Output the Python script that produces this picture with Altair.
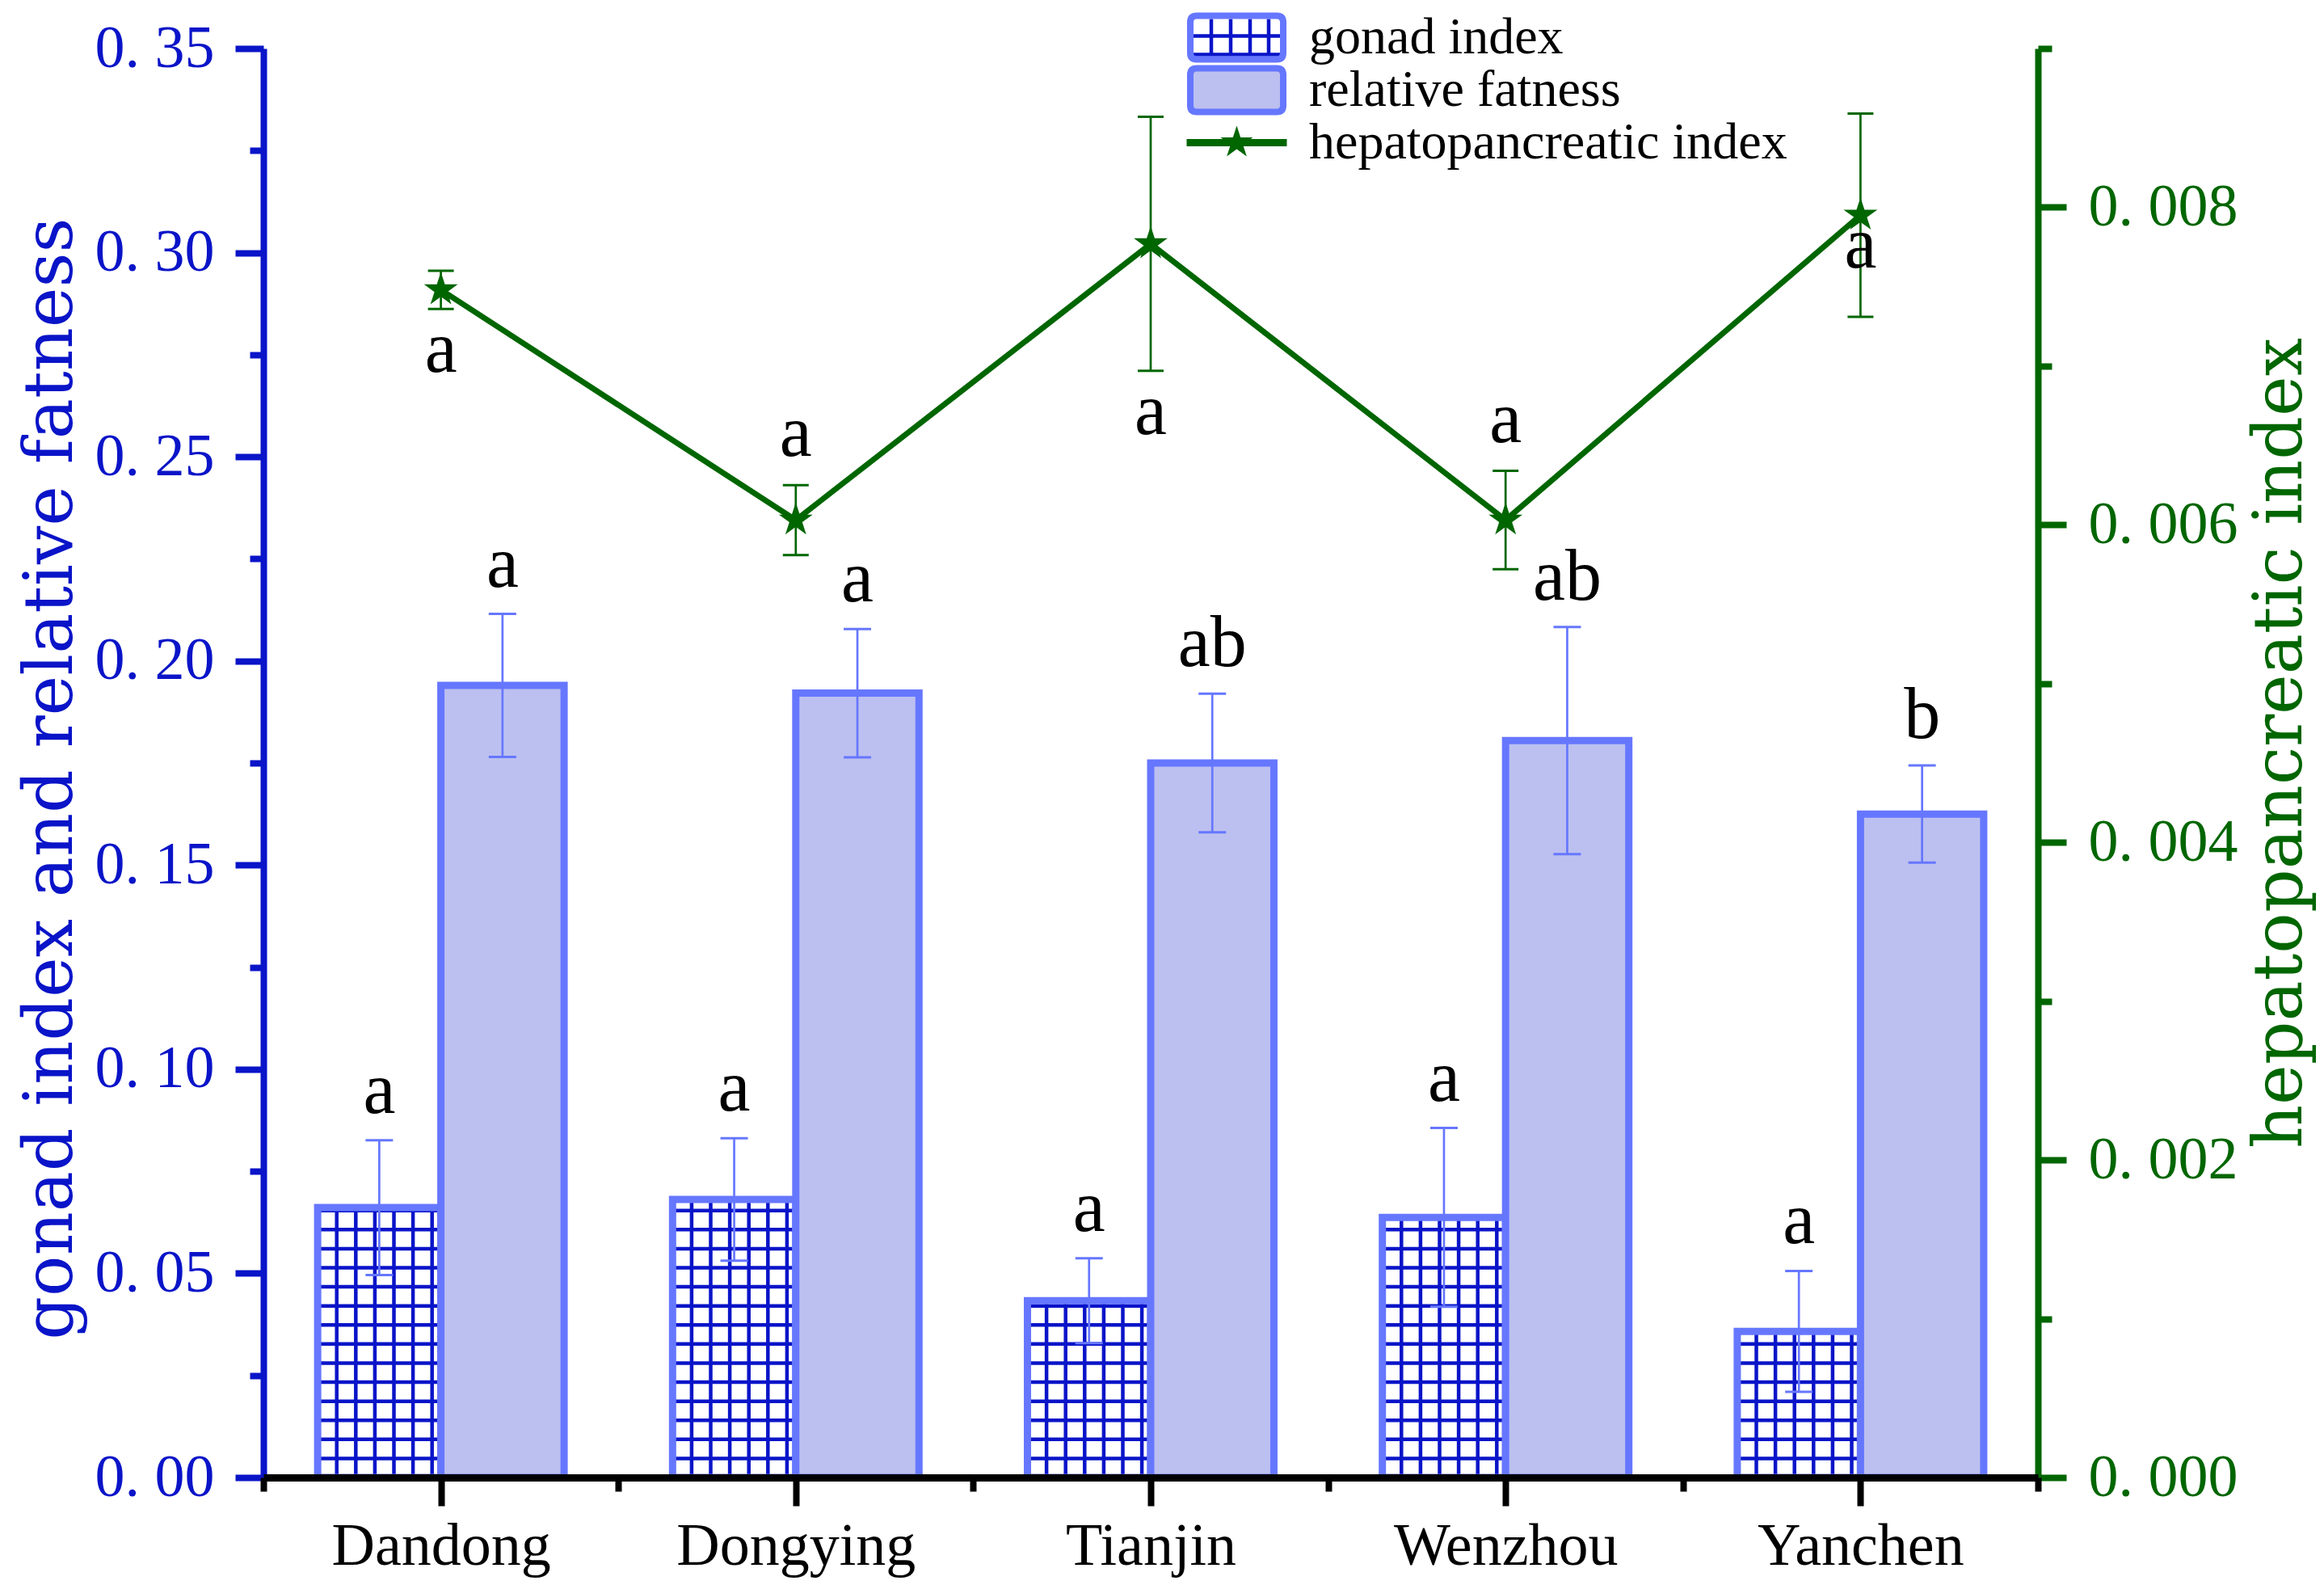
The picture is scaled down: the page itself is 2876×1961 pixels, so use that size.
import json
import math
import altair as alt
import pandas as pd

# ---------------- data ----------------
sites = ["Dandong", "Dongying", "Tianjin", "Wenzhou", "Yanchen"]
gonad = [0.0661, 0.0681, 0.0433, 0.0637, 0.0358]
gonad_err = [0.0165, 0.0150, 0.0104, 0.0219, 0.0148]
gonad_letters = ["a", "a", "a", "a", "a"]
fat = [0.1940, 0.1921, 0.1750, 0.1805, 0.1625]
fat_err = [0.0175, 0.0157, 0.0170, 0.0278, 0.0119]
fat_letters = ["a", "a", "ab", "ab", "b"]
hpi = [0.00748, 0.00603, 0.00777, 0.00603, 0.00795]
hpi_err = [0.00012, 0.00022, 0.00080, 0.00031, 0.00064]
hpi_letters = ["a", "a", "a", "a", "a"]
hpi_letter_side = ["below", "above", "below", "above", "on"]
series = ["gonad index", "relative fatness", "hepatopancreatic index"]
left_ticks = [0.0, 0.025, 0.05, 0.075, 0.10, 0.125, 0.15, 0.175, 0.20,
              0.225, 0.25, 0.275, 0.30, 0.325, 0.35]
right_ticks = [0.000, 0.001, 0.002, 0.003, 0.004, 0.005, 0.006, 0.007,
               0.008, 0.009]
x_ticks = [0, 0.5, 1, 1.5, 2, 2.5, 3, 3.5, 4, 4.5, 5]

# ---------------- styles ----------------
BLUE = "#0A14C8"
LIGHT = "#6677FF"
FATFILL = "#BCC0F0"
GREEN = "#006600"
SERIF = "Liberation Serif"
TITLEFONT = "DejaVu Serif"
W = 0.3472          # bar width in category units
GX = 0.05373        # grid pattern horizontal step (x units)
GY = 0.00467        # grid pattern vertical step (left-axis units)

n = len(sites)
centers = [i + 0.5 for i in range(n)]

bars = pd.DataFrame({
    "site": sites * 2,
    "series": [series[0]] * n + [series[1]] * n,
    "value": gonad + fat,
    "err": gonad_err + fat_err,
    "letter": gonad_letters + fat_letters,
    "x0": [c - W for c in centers] + centers,
    "x1": centers + [c + W for c in centers],
})
bars["xm"] = (bars["x0"] + bars["x1"]) / 2
bars["lo"] = bars["value"] - bars["err"]
bars["hi"] = bars["value"] + bars["err"]
bars["zero"] = 0.0
gbars = bars[bars["series"] == series[0]]
fbars = bars[bars["series"] == series[1]]

caps = pd.concat([
    bars[["xm"]].assign(y=bars["lo"]),
    bars[["xm"]].assign(y=bars["hi"]),
])

# grid pattern of the gonad bars
vl, hl = [], []
for _, r in gbars.iterrows():
    for k in range(1, 7):
        vl.append({"x": r["x0"] + k * GX, "y0": 0.0, "y1": r["value"]})
    m = 1
    while m * GY < r["value"]:
        hl.append({"x0": r["x0"], "x1": r["x1"], "y": m * GY})
        m += 1
vlines = pd.DataFrame(vl)
hlines = pd.DataFrame(hl)

hp = pd.DataFrame({
    "site": sites, "x": centers, "value": hpi, "err": hpi_err,
    "letter": hpi_letters, "side": hpi_letter_side,
})
hp["lo"] = hp["value"] - hp["err"]
hp["hi"] = hp["value"] + hp["err"]
hcaps = pd.concat([hp[["x"]].assign(y=hp["lo"]), hp[["x"]].assign(y=hp["hi"])])

# ---------------- symbols ----------------
def star(r=1.0, ri=0.382, cx=0.0, cy=0.0):
    pts = []
    for k in range(10):
        a = math.radians(-90 + 36 * k)
        rr = r if k % 2 == 0 else ri
        pts.append(f"{cx + rr * math.cos(a):.3f},{cy + rr * math.sin(a):.3f}")
    return "M" + " L".join(pts) + " Z"

STAR = star()
S = 62.0
U = S / 2
hx, hy, cr = 57.5 / U, 27 / U, 8 / U
BOX = (f"M{-hx:.3f},{-hy + cr:.3f} Q{-hx:.3f},{-hy:.3f} {-hx + cr:.3f},{-hy:.3f} "
       f"H{hx - cr:.3f} Q{hx:.3f},{-hy:.3f} {hx:.3f},{-hy + cr:.3f} V{hy - cr:.3f} "
       f"Q{hx:.3f},{hy:.3f} {hx - cr:.3f},{hy:.3f} H{-hx + cr:.3f} "
       f"Q{-hx:.3f},{hy:.3f} {-hx:.3f},{hy - cr:.3f} Z")
LINESTAR = (f"M{-2.0:.3f},{-4.5 / U:.3f} H2 V{4.5 / U:.3f} H-2 Z "
            + star(21 / U, 21 / U * 0.382))
ix, iy = 53.5 / U, 23 / U
GRID = " ".join(
    [f"M{px / U:.3f},{-iy:.3f} V{iy:.3f}" for px in (-31.5, -7.5, 16.5, 39.5)]
    + [f"M{-ix:.3f},{py / U:.3f} H{ix:.3f}" for py in (-2, 21)]
)

# ---------------- axes ----------------
def cond_size(test, big, small):
    return {"condition": {"test": test, "value": big}, "value": small}

lt = "round(datum.value*1000) % 50 == 0"
left_axis = alt.Axis(
    values=left_ticks, orient="left", grid=False,
    title="gonad index and relative fatness", titleFont=TITLEFONT,
    titleFontSize=84, titleFontWeight="normal", titleColor=BLUE,
    titleAngle=270, titleX=-238, titleY=903, titleAlign="center",
    titleBaseline="alphabetic", titleLimit=0,
    labelFont=SERIF, labelFontSize=74, labelColor=BLUE, labelPadding=26,
    labelOverlap=False, labelFlush=False, labelLimit=0,
    labelExpr=f"{lt} ? replace(format(datum.value, '.2f'), '.', '. ') : ''",
    domainColor=BLUE, domainWidth=8, tickColor=BLUE, tickWidth=8,
    tickSize=cond_size(lt, 35, 17),
)
rt = "round(datum.value*1000) % 2 == 0"
right_axis = alt.Axis(
    values=right_ticks, orient="right", grid=False,
    title="hepatopancreatic index", titleFont=TITLEFONT,
    titleFontSize=84, titleFontWeight="normal", titleColor=GREEN,
    titleAngle=270, titleX=325, titleY=859, titleAlign="center",
    titleBaseline="alphabetic", titleLimit=0,
    labelFont=SERIF, labelFontSize=74, labelColor=GREEN, labelPadding=27,
    labelOverlap=False, labelFlush=False, labelLimit=0,
    labelExpr=f"{rt} ? replace(format(datum.value, '.3f'), '.', '. ') : ''",
    domainColor=GREEN, domainWidth=8, tickColor=GREEN, tickWidth=8,
    tickSize=cond_size(rt, 35, 17),
)
xt = "datum.value % 1 == 0.5"
x_axis = alt.Axis(
    values=x_ticks, orient="bottom", grid=False, title=None,
    labelFont=SERIF, labelFontSize=74, labelColor="black", labelPadding=14,
    labelOverlap=False, labelFlush=False, labelBaseline="top", labelLimit=0,
    labelExpr=f"{xt} ? {json.dumps(sites)}[floor(datum.value)] : ''",
    domainColor="black", domainWidth=9, tickColor="black", tickWidth=8,
    tickSize=cond_size(xt, 35, 17), zindex=1,
)
XS = alt.Scale(domain=[0, 5], nice=False, zero=False)
LS = alt.Scale(domain=[0, 0.35], nice=False)
RS = alt.Scale(domain=[0, 0.009], nice=False)

def X(f):
    return alt.X(f, type="quantitative", scale=XS, axis=x_axis)

def YL(f):
    return alt.Y(f, type="quantitative", scale=LS, axis=left_axis)

def YR(f):
    return alt.Y(f, type="quantitative", scale=RS, axis=right_axis)

# ---------------- left-axis layers ----------------
g_fill = alt.Chart(gbars).mark_rect(fill="white", strokeWidth=0).encode(
    x=X("x0"), x2="x1", y=YL("value"), y2="zero")
g_vgrid = alt.Chart(vlines).mark_rule(color=BLUE, strokeWidth=4.5).encode(
    x=X("x"), y=YL("y0"), y2="y1")
g_hgrid = alt.Chart(hlines).mark_rule(color=BLUE, strokeWidth=4.5).encode(
    x=X("x0"), x2="x1", y=YL("y"))
g_outline = alt.Chart(gbars).mark_rect(
    fill="transparent", stroke=LIGHT, strokeWidth=9).encode(
    x=X("x0"), x2="x1", y=YL("value"), y2="zero")
f_bar = alt.Chart(fbars).mark_rect(
    fill=FATFILL, stroke=LIGHT, strokeWidth=9).encode(
    x=X("x0"), x2="x1", y=YL("value"), y2="zero")
b_err = alt.Chart(bars).mark_rule(color=LIGHT, strokeWidth=2.7).encode(
    x=X("xm"), y=YL("lo"), y2="hi")
b_cap = alt.Chart(caps).mark_tick(
    color=LIGHT, orient="horizontal", size=34, thickness=3, opacity=1).encode(
    x=X("xm"), y=YL("y"))
b_txt = alt.Chart(bars).mark_text(
    font=SERIF, fontSize=90, color="black", baseline="alphabetic",
    align="center", dy=-34).encode(x=X("xm"), y=YL("hi"), text="letter")

SYMOFF = 30
LABOFF = 54.5
LEGX, LEGY = 1139.5, -46
leg_df = pd.DataFrame({"series": series, "gkey": series[0]})
legA = alt.Legend(
    title=None, orient="none", legendX=LEGX, legendY=LEGY,
    labelFont=SERIF, labelFontSize=64, labelColor="black", labelOffset=LABOFF,
    labelLimit=0, symbolStrokeWidth=8, symbolSize=S * S, rowPadding=0,
    symbolOffset=SYMOFF, clipHeight=65, padding=0, offset=0,
)
legB = alt.Legend(
    title=None, orient="none", legendX=LEGX + 1.5, legendY=LEGY,
    labelFont=SERIF, labelFontSize=64, labelColor="transparent",
    labelOffset=LABOFF, labelLimit=0, symbolStrokeWidth=4.5, symbolSize=S * S,
    symbolType=GRID, rowPadding=0, symbolOffset=SYMOFF, clipHeight=65,
    padding=0, offset=0,
)
legend_a = alt.Chart(leg_df).mark_point(
    filled=True, opacity=1, size=S * S).encode(
    fill=alt.Fill("series:N", scale=alt.Scale(
        domain=series, range=["transparent", FATFILL, GREEN]), legend=legA),
    stroke=alt.Stroke("series:N", scale=alt.Scale(
        domain=series, range=[LIGHT, LIGHT, "transparent"]), legend=legA),
    shape=alt.Shape("series:N", scale=alt.Scale(
        domain=series, range=[BOX, BOX, LINESTAR]), legend=legA),
).transform_filter("false")
legend_b = alt.Chart(leg_df).mark_point(
    filled=False, opacity=1, size=S * S, shape=GRID, strokeWidth=4.5).encode(
    color=alt.Color("gkey:N", scale=alt.Scale(
        domain=[series[0]], range=[BLUE]), legend=legB),
).transform_filter("false")

left = alt.layer(g_fill, g_vgrid, g_hgrid, g_outline, f_bar, b_err, b_cap,
                 b_txt, legend_b, legend_a)

# ---------------- right-axis layers ----------------
h_line = alt.Chart(hp).mark_line(color=GREEN, strokeWidth=7).encode(
    x=X("x"), y=YR("value"))
h_err = alt.Chart(hp).mark_rule(color=GREEN, strokeWidth=2.7).encode(
    x=X("x"), y=YR("lo"), y2="hi")
h_cap = alt.Chart(hcaps).mark_tick(
    color=GREEN, orient="horizontal", size=32, thickness=3, opacity=1).encode(
    x=X("x"), y=YR("y"))
h_star = alt.Chart(hp).mark_point(
    shape=STAR, filled=True, fill=GREEN, opacity=1, size=44 * 44,
    strokeWidth=0).encode(x=X("x"), y=YR("value"))

def hp_text(side, field, dy):
    return alt.Chart(hp).transform_filter(
        alt.datum.side == side).mark_text(
        font=SERIF, fontSize=90, color="black", baseline="alphabetic",
        align="center", dy=dy).encode(x=X("x"), y=YR(field), text="letter")

right = alt.layer(h_line, h_err, h_cap, h_star,
                  hp_text("below", "lo", 78), hp_text("above", "hi", -36),
                  hp_text("on", "value", 65))

chart = alt.layer(left, right).resolve_scale(y="independent").properties(
    width=2196, height=1768,
    autosize=alt.AutoSizeParams(type="none"),
    padding={"left": 318, "top": 52, "right": 346, "bottom": 125},
    background="white",
).configure_view(stroke=None)

chart.save("out.html", embed_options={"renderer": "svg", "actions": False})
